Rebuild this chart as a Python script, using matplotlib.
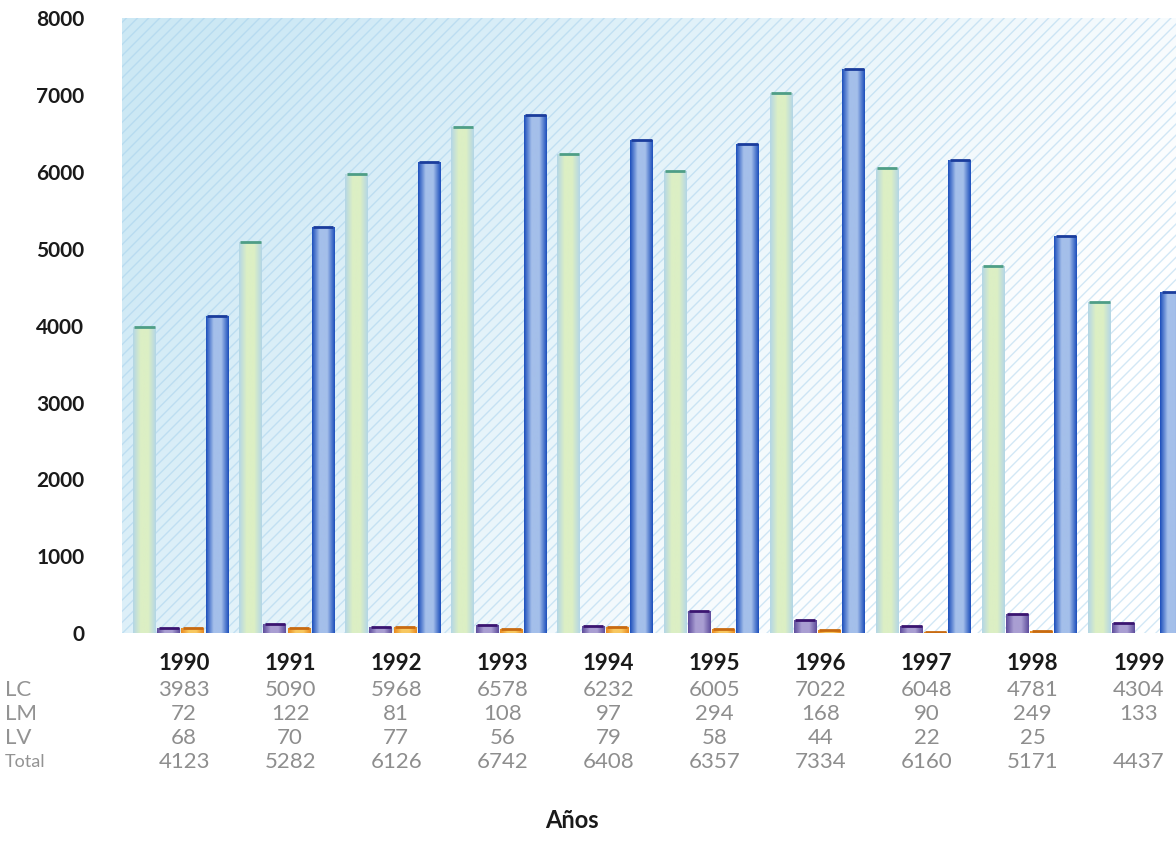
import numpy as np
import matplotlib
matplotlib.use("Agg")
import matplotlib.pyplot as plt
from matplotlib.colors import LinearSegmentedColormap
from matplotlib.patches import Rectangle

years = ['1990', '1991', '1992', '1993', '1994', '1995', '1996', '1997', '1998', '1999']
LC = [3983, 5090, 5968, 6578, 6232, 6005, 7022, 6048, 4781, 4304]
LM = [72, 122, 81, 108, 97, 294, 168, 90, 249, 133]
LV = [68, 70, 77, 56, 79, 58, 44, 22, 25, None]
Total = [4123, 5282, 6126, 6742, 6408, 6357, 7334, 6160, 5171, 4437]
row_names = ['LC', 'LM', 'LV', 'Total']

# edge, centre, cap colours for each series
styles = [
    ('#b4d6e6', '#dcefc4', '#4e9e86'),
    ('#5e4c9c', '#a99ed2', '#3a1470'),
    ('#e98a20', '#f8c860', '#c86a10'),
    ('#1d4fbc', '#a4bfea', '#1a3c9c'),
]

fig = plt.figure(figsize=(11.76, 8.58), dpi=100)
ax = fig.add_axes([0.1037, 0.262, 0.8963, 0.717])

# background gradient
nx, ny = 300, 200
gx, gy = np.meshgrid(np.linspace(0, 1, nx), np.linspace(1, 0, ny))
t = np.clip(1.1 - 0.95 * gx - 0.45 * (1 - gy), 0, 1)
base = np.array([0.80, 0.91, 0.96])
img = np.ones((ny, nx, 3)) * (1 - t[..., None]) + base * t[..., None]
ax.imshow(img, extent=[0, 1, 0, 1], transform=ax.transAxes, aspect='auto', zorder=0)
ax.add_patch(Rectangle((0, 0), 1, 1, transform=ax.transAxes, fill=False,
                       hatch='///', edgecolor=(0.62, 0.80, 0.92, 0.45), linewidth=0, zorder=0.5))

x = np.arange(len(years))
w = 0.228
series = [LC, LM, LV, Total]
for k, vals in enumerate(series):
    edge, centre, cap = styles[k]
    cmap = LinearSegmentedColormap.from_list('c%d' % k, [edge, centre, centre, edge])
    grad = np.linspace(0, 1, 64).reshape(1, -1)
    pos = x + (k - 1.5) * w
    for xi, v in zip(pos, vals):
        if v is None:
            continue
        bar = ax.bar(xi, v, width=w * 0.95, color=edge, zorder=2)[0]
        im = ax.imshow(grad, cmap=cmap, aspect='auto', zorder=3,
                       extent=[xi - w * 0.475, xi + w * 0.475, 0, v])
        im.set_clip_path(bar)
        ax.hlines(v, xi - w * 0.42, xi + w * 0.42, color=cap, linewidth=2, zorder=4)

ax.set_xlim(-0.555, 9.38)
ax.set_ylim(0, 8000)
ax.set_yticks(range(0, 8001, 1000))
ax.tick_params(axis='y', length=0, pad=27, labelsize=15)
for lab in ax.get_yticklabels():
    lab.set_fontweight('bold')
    lab.set_fontfamily('Lato')
    lab.set_color('#1a1a1a')
ax.set_xticks([])
for s in ax.spines.values():
    s.set_visible(False)

# data table under the chart
tr = ax.get_xaxis_transform()
row_y = [-0.093, -0.131, -0.170, -0.210]
for i, yr in enumerate(years):
    ax.text(x[i] + 0.03, -0.050, yr, transform=tr, ha='center', va='center',
            fontsize=16, fontweight='bold', family='Lato', color='#1a1a1a')
    for r, vals in enumerate(series):
        if vals[i] is None:
            continue
        ax.text(x[i] + 0.03, row_y[r], str(vals[i]), transform=tr, ha='center', va='center',
                fontsize=16, color='#8e8e8e', family='Lato')
for r, name in enumerate(row_names):
    fig.text(0.004, 1 - (690 + 24 * r) / 858, name, ha='left', va='center',
             fontsize=16 if r < 3 else 13, color='#939393', family='Lato')

fig.text(0.486, 1 - 820 / 858, 'Años', ha='center', va='center',
         fontsize=17, fontweight='bold', family='Lato', color='#1a1a1a')

fig.savefig('out.png', dpi=100)
